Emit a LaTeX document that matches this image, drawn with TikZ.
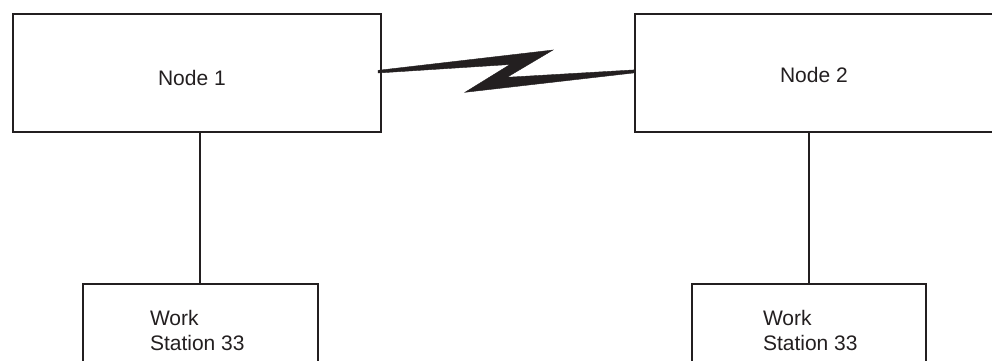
\documentclass[tikz,border=0pt]{standalone}
\usepackage{fontspec}
\setmainfont{Liberation Sans}
\usetikzlibrary{calc}
\definecolor{ink}{RGB}{35,31,32}
\tikzset{
  box/.style={draw=ink, line width=2pt, rectangle, inner sep=0pt, outer sep=0pt, fill=white},
  lbl/.style={inner sep=0pt, outer sep=0pt, text=ink, font=\fontsize{21}{25}\selectfont, align=left},
  link/.style={draw=ink, line width=2pt},
  bolt/.style={fill=ink, draw=ink, line width=0.4pt, line join=miter}
}
\begin{document}
\begin{tikzpicture}[x=1pt, y=-1pt]
\path[use as bounding box] (0,0) rectangle (992,360);
\fill[white] (0,0) rectangle (992,360);
\begin{scope}
\clip (0,0) rectangle (992,360);
% boxes
\node[box, minimum width=368.5pt, minimum height=118.5pt] (n1) at (196.75,72.75) {};
\node[box, minimum width=365pt, minimum height=118.5pt] (n2) at (817.5,72.75) {};
\node[box, minimum width=235.3pt, minimum height=96.5pt] (ws1) at (200.35,331.75) {};
\node[box, minimum width=234.3pt, minimum height=96.5pt] (ws2) at (808.85,331.75) {};
% labels
\node[lbl, anchor=base west] (t1) at (158,85) {Node 1};
\node[lbl, anchor=base west] (t2) at (780,82.7) {Node 2};
\node[lbl, anchor=north west] (t3) at (150,310.2) {Work\\Station 33};
\node[lbl, anchor=north west] (t4) at (763,310.2) {Work\\Station 33};
% connectors
\draw[link] (n1.south -| ws1.north) -- (ws1.north);
\draw[link] (n2.south -| ws2.north) -- (ws2.north);
% lightning link
\fill[bolt] ($(n1.east)+(-3,-2.4)$) -- (553,50) -- (507,77.3) -- ($(n2.west)+(0,-2.9)$)
  -- ($(n2.west)+(0,0.05)$) -- (465,92.3) -- (510,64.5) -- ($(n1.east)+(-3,0.25)$) -- cycle;
\end{scope}
\end{tikzpicture}
\end{document}
